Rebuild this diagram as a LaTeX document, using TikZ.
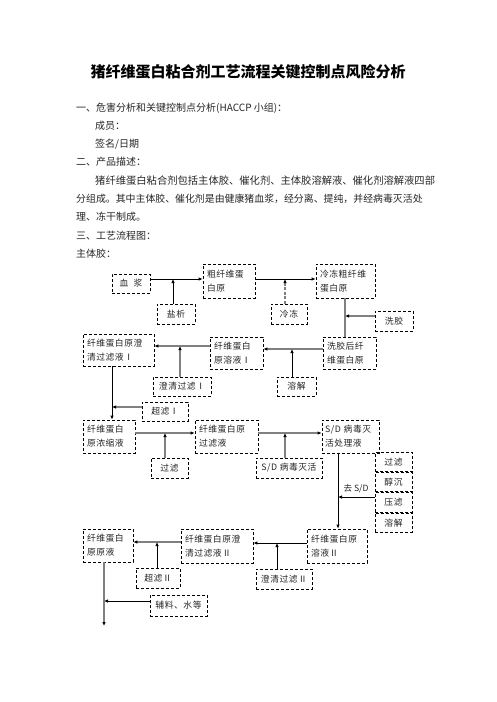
\documentclass[tikz,border=0pt]{standalone}
\usepackage{fontspec}
\setmainfont{Noto Sans CJK SC}
\newfontfamily\boxcjk[LetterSpace=6]{Noto Sans CJK SC}
\usepackage{tikz}
\usetikzlibrary{arrows.meta, positioning}
\tikzset{box/.style={draw=black, densely dashed, line width=0.8pt, inner sep=0pt, align=left, text=black!85, font=\boxcjk\fontsize{8.8}{14}\selectfont},
    blk/.style={draw=black, line width=0.8pt, -{Latex[length=4pt,width=3.5pt]}},
    gry/.style={draw=black!50, line width=1.6pt, -{Latex[length=4pt,width=3.5pt,color=black]}},
    txt/.style={anchor=west, inner sep=0pt, text=black!85, font=\fontsize{10}{12}\selectfont}}

\begin{document}
\begin{tikzpicture}[x=1pt, y=-1pt]
                 \fill[white] (0,0) rectangle (496,702);
                 \useasboundingbox (0,0) rectangle (496,702);

                 \node[font=\bfseries\fontsize{15}{18}\selectfont, inner sep=0pt] (title) at (248,72) {猪纤维蛋白粘合剂工艺流程关键控制点风险分析};
                 \node[txt] (t1) at (76,108) {一、危害分析和关键控制点分析(HACCP 小组)：};
                 \node[txt] (t2) at (95,126) {成员：};
                 \node[txt] (t3) at (95,144) {签名/日期};
                 \node[txt] (t4) at (76,162) {二、产品描述：};
                 \node[txt, font=\fontsize{10.3}{12}\selectfont] (t5) at (95,181) {猪纤维蛋白粘合剂包括主体胶、催化剂、主体胶溶解液、催化剂溶解液四部};
                 \node[txt, font=\fontsize{9.9}{12}\selectfont] (t6) at (76,199) {分组成。其中主体胶、催化剂是由健康猪血浆，经分离、提纯，并经病毒灭活处};
                 \node[txt] (t7) at (76,217) {理、冻干制成。};
                 \node[txt] (t8) at (76,236) {三、工艺流程图：};
                 \node[txt] (t9) at (76,254) {主体胶：};

                 % row 1
                 \node[box, minimum width=38pt, minimum height=19pt] (xj) at (131,283.5) {血\ \ 浆};
                 \node[box, minimum width=52pt, minimum height=34pt, text width=44pt] (cxw) at (229,281) {粗纤维蛋\\白原};
                 \node[box, minimum width=59pt, minimum height=34pt, text width=51pt] (lcx) at (345.5,281) {冷冻粗纤维\\蛋白原};
                 \node[box, minimum width=38pt, minimum height=20pt] (yx) at (176,314) {盐析};
                 \node[box, minimum width=36pt, minimum height=20pt] (ld) at (289,314) {冷冻};
                 \node[box, minimum width=38pt, minimum height=20pt] (xjiao) at (394,321) {洗胶};

                 % row 2
                 \node[box, minimum width=71pt, minimum height=32pt, text width=63pt] (qlyI) at (118.5,350) {纤维蛋白原澄\\清过滤液Ⅰ};
                 \node[box, minimum width=53pt, minimum height=32pt, text width=45pt] (ryI) at (236.5,353) {纤维蛋白\\原溶液Ⅰ};
                 \node[box, minimum width=53pt, minimum height=32pt, text width=45pt] (xjh) at (349.5,353) {洗胶后纤\\维蛋白原};
                 \node[box, minimum width=58pt, minimum height=19pt] (cqI) at (182,386.5) {澄清过滤Ⅰ};
                 \node[box, minimum width=39pt, minimum height=19pt] (rj) at (296.5,386.5) {溶解};
                 \node[box, minimum width=46pt, minimum height=19pt] (clI) at (165,411.5) {超滤Ⅰ};

                 % row 3
                 \node[box, minimum width=52pt, minimum height=33pt, text width=44pt] (nsy) at (109,436.5) {纤维蛋白\\原浓缩液};
                 \node[box, minimum width=63pt, minimum height=33pt, text width=55pt] (gly) at (226.5,436.5) {纤维蛋白原\\过滤液};
                 \node[box, minimum width=57pt, minimum height=33pt, text width=51pt] (sdy) at (350.5,436.5) {S/D 病毒灭\\活处理液};
                 \node[box, minimum width=37pt, minimum height=20pt] (gl) at (169.5,468) {过滤};
                 \node[box, minimum width=66pt, minimum height=20pt] (sdm) at (289,468) {S/D 病毒灭活};
                 \node[box, minimum width=37pt, minimum height=19.5pt] (glv) at (393.5,461.75) {过滤};
                 \node[box, minimum width=37pt, minimum height=19.5pt, below=0pt of glv] (cc) {醇沉};
                 \node[box, minimum width=37pt, minimum height=19.5pt, below=0pt of cc] (yl) {压滤};
                 \node[box, minimum width=37pt, minimum height=19.5pt, below=0pt of yl] (rj2) {溶解};

                 % row 4
                 \node[box, minimum width=60pt, minimum height=34pt, text width=52pt] (ryII) at (337,546) {纤维蛋白原\\溶液Ⅱ};
                 \node[box, minimum width=72pt, minimum height=34pt, text width=64pt] (qlyII) at (217,546) {纤维蛋白原澄\\清过滤液Ⅱ};
                 \node[box, minimum width=50pt, minimum height=33pt, text width=42pt] (yy) at (108,545.5) {纤维蛋白\\原原液};
                 \node[box, minimum width=44pt, minimum height=20pt] (clII) at (158,578) {超滤Ⅱ};
                 \node[box, minimum width=56pt, minimum height=20pt] (cqII) at (284,579) {澄清过滤Ⅱ};
                 \node[box, minimum width=57pt, minimum height=21pt] (fl) at (178.5,605.5) {辅料、水等};

                 \coordinate (j1) at (173,279);
                 \coordinate (j2) at (285,279);
                 \coordinate (j3) at (345,316);
                 \coordinate (j4) at (292,349);
                 \coordinate (j5) at (180,346);
                 \coordinate (j6) at (112,407);
                 \coordinate (j7) at (165,433);
                 \coordinate (j8) at (285,433);
                 \coordinate (j9) at (338,497);
                 \coordinate (j10) at (277,543);
                 \coordinate (j11) at (157,542);
                 \coordinate (j12) at (104,601);
                 \coordinate (out) at (104,626);

                 \draw[blk] (xj.east |- j1) -- (cxw.west |- j1);
                 \draw[blk] (yx.north -| j1) -- (j1);
                 \draw[blk] (cxw.east |- j2) -- (lcx.west |- j2);
                 \draw[gry, dash pattern=on 3pt off 1.5pt] (ld.north -| j2) -- (j2);
                 \draw[gry, -] (lcx.south -| j3) -- (xjh.north -| j3);
                 \draw[gry] (xjiao.west |- j3) -- (j3);

                 \draw[gry] (xjh.west |- j4) -- (ryI.east |- j4);
                 \draw[blk] (rj.north -| j4) -- (j4);
                 \draw[gry] (ryI.west |- j5) -- (qlyI.east |- j5);
                 \draw[gry] (cqI.north -| j5) -- (j5);
                 \draw[blk] (qlyI.south -| j6) -- (nsy.north -| j6);
                 \draw[gry] (clI.west |- j6) -- (j6);

                 \draw[gry] (nsy.east |- j7) -- (gly.west |- j7);
                 \draw[gry] (gl.north -| j7) -- (j7);
                 \draw[gry] (gly.east |- j8) -- (sdy.west |- j8);
                 \draw[gry] (sdm.north -| j8) -- (j8);
                 \draw[blk] (sdy.south -| j9) -- (ryII.north -| j9);
                 \draw[blk] (yl.west |- j9) -- (j9);
                 \node[inner sep=0pt, text=black!85, font=\fontsize{8.6}{10}\selectfont] (qsd) at (356,489) {去 S/D};

                 \draw[blk] (ryII.west |- j10) -- (qlyII.east |- j10);
                 \draw[blk] (cqII.north -| j10) -- (j10);
                 \draw[gry] (qlyII.west |- j11) -- (yy.east |- j11);
                 \draw[blk] (clII.north -| j11) -- (j11);
                 \draw[gry] (yy.south -| out) -- (out);
                 \draw[blk] (fl.west |- j12) -- (j12);

\end{tikzpicture}
\end{document}
